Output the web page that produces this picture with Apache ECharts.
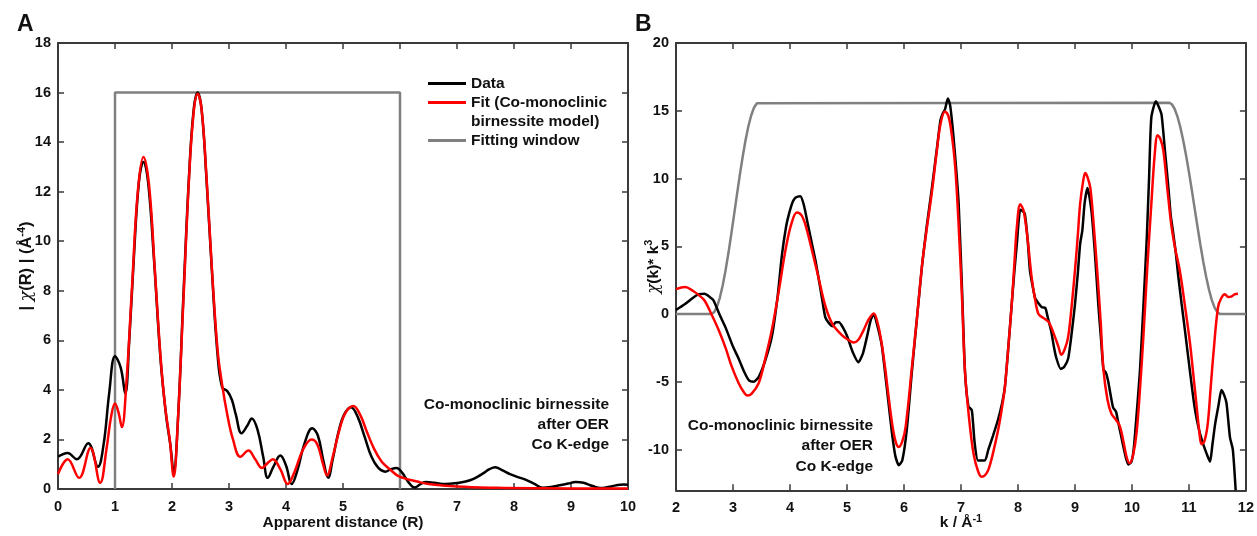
<!DOCTYPE html>
<html>
<head>
<meta charset="utf-8">
<script src="https://cdn.jsdelivr.net/npm/echarts@6/dist/echarts.min.js"></script>
<style>
  html, body { margin: 0; padding: 0; background: #fff; }
  #chart { width: 1257px; height: 536px; }
</style>
</head>
<body>
<div id="chart"></div>
<script>
// ---- Panel A: |chi(R)| versus apparent distance R ----
const dataR = [
  [0, 1.3], [0.17, 1.45], [0.33, 1.2], [0.53, 1.85], [0.7, 0.9], [0.8, 1.8], [0.9, 3.9],
  [1.0, 5.36], [1.1, 4.9], [1.18, 3.85], [1.25, 6.0], [1.33, 9.3], [1.42, 12.4], [1.5, 13.2],
  [1.58, 12.4], [1.68, 9.4], [1.8, 5.2], [1.9, 2.9], [1.97, 1.8], [2.03, 0.7], [2.1, 2.6],
  [2.2, 7.8], [2.3, 12.7], [2.38, 15.3], [2.45, 16.0], [2.52, 15.3], [2.6, 12.7], [2.7, 8.8],
  [2.8, 5.4], [2.88, 4.1], [2.97, 3.95], [3.05, 3.6], [3.12, 3.0], [3.22, 2.25], [3.32, 2.55],
  [3.4, 2.85], [3.5, 2.4], [3.6, 1.3], [3.68, 0.45], [3.78, 0.9], [3.9, 1.35], [4.0, 0.95],
  [4.1, 0.2], [4.2, 0.75], [4.32, 1.8], [4.46, 2.45], [4.56, 2.15], [4.66, 1.1], [4.74, 0.45],
  [4.82, 1.2], [4.92, 2.3], [5.02, 3.0], [5.14, 3.3], [5.26, 2.9], [5.38, 2.1], [5.5, 1.3],
  [5.62, 0.85], [5.74, 0.7], [5.84, 0.8], [5.94, 0.85], [6.04, 0.65], [6.14, 0.3], [6.26, 0.06],
  [6.36, 0.2], [6.46, 0.28], [6.6, 0.25], [6.8, 0.2], [7.0, 0.24], [7.15, 0.3], [7.3, 0.42],
  [7.45, 0.62], [7.57, 0.8], [7.67, 0.88], [7.8, 0.75], [7.93, 0.6], [8.07, 0.48], [8.2, 0.38],
  [8.35, 0.22], [8.5, 0.05], [8.65, 0.08], [8.8, 0.15], [8.95, 0.22], [9.08, 0.28], [9.22, 0.25],
  [9.38, 0.12], [9.52, 0.04], [9.65, 0.08], [9.8, 0.15], [9.92, 0.18], [10.0, 0.17]
];
const fitR = [
  [0, 0.6], [0.17, 1.2], [0.37, 0.45], [0.57, 1.65], [0.74, 0.25], [0.85, 1.6], [0.93, 2.9],
  [1.0, 3.45], [1.06, 3.1], [1.12, 2.5], [1.2, 4.3], [1.3, 8.2], [1.4, 12.0], [1.5, 13.4],
  [1.6, 12.2], [1.7, 8.8], [1.8, 5.3], [1.88, 3.3], [1.96, 2.0], [2.03, 0.5], [2.1, 2.6],
  [2.2, 7.6], [2.3, 12.6], [2.38, 15.2], [2.45, 15.95], [2.52, 15.3], [2.6, 12.8], [2.7, 8.9],
  [2.8, 5.6], [2.88, 4.2], [2.97, 3.0], [3.07, 2.0], [3.2, 1.3], [3.34, 1.55], [3.46, 1.2],
  [3.58, 0.85], [3.68, 1.05], [3.77, 1.2], [3.9, 0.8], [4.03, 0.2], [4.15, 0.7], [4.3, 1.6],
  [4.45, 2.0], [4.55, 1.8], [4.65, 1.0], [4.72, 0.55], [4.82, 1.3], [4.95, 2.5], [5.05, 3.1],
  [5.18, 3.35], [5.3, 3.0], [5.42, 2.3], [5.55, 1.6], [5.68, 1.1], [5.82, 0.8], [5.95, 0.55],
  [6.05, 0.45], [6.3, 0.3], [6.5, 0.2], [7.0, 0.1], [7.7, 0.05], [8.5, 0.03], [9.5, 0.02], [10.0, 0.02]
];
const windowR = [[1, 0], [1, 16], [6, 16], [6, 0]];

// ---- Panel B: k^3-weighted chi(k) ----
const dataK = [
  [2.0, 0.3], [2.16, 0.74], [2.3, 1.2], [2.4, 1.47], [2.5, 1.5], [2.58, 1.3], [2.66, 1.0],
  [2.76, 0.0], [2.87, -1.0], [3.0, -2.4], [3.1, -3.3], [3.2, -4.3], [3.28, -4.9], [3.36, -5.0],
  [3.45, -4.65], [3.56, -3.5], [3.68, -1.7], [3.78, 1.2], [3.86, 4.4], [3.93, 6.4], [3.98, 7.35],
  [4.05, 8.3], [4.1, 8.6], [4.18, 8.7], [4.24, 8.1], [4.32, 6.5], [4.39, 5.1], [4.45, 3.9],
  [4.5, 2.7], [4.56, 1.2], [4.62, -0.25], [4.68, -0.65], [4.75, -0.9], [4.8, -0.6], [4.86, -0.6],
  [4.93, -1.0], [5.0, -1.6], [5.1, -2.8], [5.2, -3.55], [5.28, -2.9], [5.36, -1.5], [5.42, -0.4],
  [5.47, 0.0], [5.53, -0.8], [5.61, -2.3], [5.67, -4.4], [5.73, -6.6], [5.79, -8.8], [5.85, -10.5],
  [5.91, -11.15], [5.97, -10.8], [6.05, -8.5], [6.14, -4.2], [6.23, -0.2], [6.32, 3.7], [6.4, 6.5],
  [6.49, 9.3], [6.58, 12.3], [6.64, 14.3], [6.68, 14.8], [6.72, 15.1], [6.77, 15.9], [6.81, 15.4],
  [6.86, 13.5], [6.92, 10.5], [6.96, 8.1], [7.02, 1.7], [7.07, -4.2], [7.13, -6.8], [7.19, -7.1],
  [7.24, -9.5], [7.3, -10.8], [7.42, -10.8], [7.48, -10.0], [7.56, -9.0], [7.65, -7.8], [7.72, -6.6],
  [7.77, -5.4], [7.83, -2.5], [7.89, 0.7], [7.94, 3.3], [7.98, 5.15], [8.04, 7.7], [8.08, 7.6],
  [8.12, 7.4], [8.17, 5.5], [8.21, 3.2], [8.26, 2.0], [8.3, 1.2], [8.36, 0.8], [8.42, 0.5],
  [8.48, 0.45], [8.52, -0.2], [8.58, -1.2], [8.63, -2.4], [8.67, -3.2], [8.75, -4.05], [8.81, -3.9],
  [8.88, -3.3], [8.94, -1.5], [9.0, 0.7], [9.05, 3.0], [9.09, 5.15], [9.13, 6.2], [9.17, 8.2],
  [9.22, 9.3], [9.29, 7.6], [9.35, 4.5], [9.41, 0.7], [9.46, -2.0], [9.5, -4.1], [9.54, -4.3],
  [9.58, -4.9], [9.64, -6.3], [9.67, -6.9], [9.72, -7.2], [9.76, -8.0], [9.8, -8.8], [9.85, -9.8],
  [9.9, -10.7], [9.94, -11.1], [9.99, -10.9], [10.03, -10.0], [10.08, -7.5], [10.14, -4.2],
  [10.2, 0.5], [10.26, 5.6], [10.3, 10.0], [10.34, 14.5], [10.42, 15.7], [10.47, 15.3],
  [10.52, 14.7], [10.58, 12.0], [10.64, 9.3], [10.68, 7.3], [10.72, 6.1], [10.77, 4.5],
  [10.81, 2.9], [10.87, 0.8], [10.93, -1.2], [11.02, -4.3], [11.1, -6.9], [11.18, -8.6],
  [11.25, -9.6], [11.31, -10.3], [11.37, -10.9], [11.41, -9.7], [11.46, -8.1], [11.52, -6.7],
  [11.57, -5.6], [11.62, -6.0], [11.66, -6.6], [11.72, -9.1], [11.77, -10.0], [11.82, -13.0]
];
const fitK = [
  [2.0, 1.84], [2.16, 2.0], [2.3, 1.7], [2.4, 1.4], [2.5, 1.0], [2.62, 0.0], [2.75, -1.2],
  [2.87, -2.5], [2.98, -3.9], [3.1, -5.1], [3.18, -5.7], [3.25, -6.0], [3.32, -5.9], [3.45, -5.1],
  [3.56, -3.4], [3.68, -1.2], [3.8, 1.6], [3.92, 4.7], [4.02, 6.6], [4.12, 7.5], [4.2, 7.3],
  [4.27, 6.6], [4.38, 4.8], [4.5, 2.7], [4.62, 0.6], [4.74, -0.7], [4.91, -1.55], [5.02, -1.9],
  [5.12, -2.1], [5.2, -1.9], [5.29, -1.2], [5.38, -0.4], [5.47, 0.05], [5.54, -0.7], [5.61, -2.2],
  [5.67, -4.0], [5.73, -6.1], [5.8, -8.3], [5.86, -9.5], [5.91, -9.8], [5.97, -9.4], [6.03, -8.3],
  [6.14, -3.9], [6.23, -0.2], [6.32, 3.7], [6.4, 6.3], [6.49, 9.0], [6.57, 11.8], [6.64, 14.0],
  [6.72, 14.95], [6.78, 14.6], [6.84, 13.2], [6.9, 10.8], [6.96, 6.5], [7.02, 1.0], [7.07, -4.2],
  [7.14, -7.6], [7.22, -10.3], [7.3, -11.6], [7.36, -12.0], [7.42, -11.9], [7.48, -11.5],
  [7.56, -10.3], [7.65, -8.6], [7.72, -6.9], [7.77, -5.4], [7.83, -2.5], [7.89, 0.7], [7.94, 3.9],
  [7.98, 6.4], [8.04, 8.1], [8.1, 7.6], [8.17, 5.5], [8.24, 2.7], [8.3, 1.1], [8.36, 0.0],
  [8.45, -0.3], [8.54, -0.6], [8.65, -1.7], [8.71, -2.4], [8.76, -3.0], [8.82, -2.6], [8.88, -1.7],
  [8.94, 0.5], [9.0, 3.2], [9.05, 5.8], [9.09, 8.1], [9.14, 9.7], [9.18, 10.4], [9.22, 10.1],
  [9.27, 9.3], [9.33, 6.5], [9.39, 3.2], [9.45, -0.5], [9.5, -4.1], [9.57, -6.3], [9.64, -7.35],
  [9.72, -7.8], [9.79, -8.3], [9.85, -9.4], [9.91, -10.6], [9.96, -11.0], [10.02, -10.4],
  [10.08, -8.8], [10.14, -5.6], [10.2, -1.7], [10.27, 3.5], [10.34, 8.1], [10.4, 11.8],
  [10.45, 13.2], [10.5, 12.9], [10.55, 12.1], [10.62, 9.3], [10.69, 6.6], [10.76, 4.8],
  [10.84, 3.2], [10.93, 0.6], [11.02, -2.2], [11.08, -4.6], [11.13, -6.6], [11.18, -8.6],
  [11.22, -9.6], [11.27, -9.4], [11.33, -8.1], [11.38, -5.5], [11.43, -2.9], [11.51, 0.5],
  [11.57, 1.2], [11.63, 1.47], [11.69, 1.25], [11.75, 1.3], [11.8, 1.45], [11.86, 1.5]
];
const windowK = [
  [2.0, 0], [2.62, 0], [2.67, 0.14], [2.72, 0.55], [2.77, 1.22], [2.82, 2.13], [2.87, 3.24],
  [2.92, 4.5], [2.97, 5.9], [3.02, 7.36], [3.07, 8.83], [3.12, 10.27], [3.17, 11.61], [3.22, 12.83],
  [3.27, 13.86], [3.32, 14.67], [3.37, 15.24], [3.42, 15.55], [3.45, 15.6],
  [10.65, 15.6], [10.7, 15.48], [10.75, 15.13], [10.8, 14.55], [10.85, 13.77], [10.9, 12.81],
  [10.95, 11.7], [11.0, 10.47], [11.05, 9.16], [11.1, 7.8], [11.15, 6.44], [11.2, 5.13],
  [11.25, 3.9], [11.3, 2.79], [11.35, 1.83], [11.4, 1.05], [11.45, 0.47], [11.5, 0.12],
  [11.55, 0], [12.0, 0]
];
const kYTicks = [-10, -5, 0, 5, 10, 15, 20];

const seriesNames = ['Data', 'Fit (Co-monoclinic birnessite model)', 'Fitting window'];
const colors = { data: '#000000', fit: '#ff0000', window: '#808080' };

const FONT = '"Liberation Sans", Arial, sans-serif';
const frameColor = '#3a3a3a';
const textCommon = { fontFamily: FONT, fontWeight: 'bold', color: '#111' };

function axisBase(extra, labelMargin) {
  return Object.assign({
    type: 'value',
    nameMoveOverlap: false,
    axisLine: { show: true, onZero: false, lineStyle: { color: frameColor, width: 2 } },
    axisTick: { show: true, inside: true, length: 6, lineStyle: { color: frameColor, width: 1.5 } },
    axisLabel: Object.assign({ fontSize: 14.5, margin: labelMargin || 7 }, textCommon),
    splitLine: { show: false }
  }, extra);
}
function mirror(axis) {
  axis.axisLabel = { show: false };
  axis.name = '';
  return axis;
}
function richSet(size) {
  return {
    t: Object.assign({ fontSize: size, lineHeight: size + 4 }, textCommon),
    s: Object.assign({ fontSize: Math.round(size * 0.68), verticalAlign: 'top', lineHeight: size + 4 }, textCommon),
    g: { fontSize: size + 1, lineHeight: size + 4, fontFamily: '"DejaVu Serif", serif', fontStyle: 'italic', color: '#111' }
  };
}

const chart = echarts.init(document.getElementById('chart'), null, { renderer: 'canvas' });

chart.setOption({
  animation: false,
  backgroundColor: '#ffffff',
  grid: [
    { left: 58, top: 43, width: 570, height: 450 },
    { left: 676, top: 43, width: 570, height: 450 }
  ],
  legend: {
    orient: 'vertical',
    left: 428,
    top: 74,
    padding: 0,
    icon: 'rect',
    itemWidth: 38,
    itemHeight: 3,
    itemGap: -19,
    selectedMode: false,
    textStyle: Object.assign({ fontSize: 15.5, lineHeight: 19 }, textCommon),
    data: seriesNames,
    formatter: function (name) {
      if (name === seriesNames[1]) return '\nFit (Co-monoclinic\nbirnessite model)';
      if (name === seriesNames[2]) return '\nFitting window\n ';
      return name;
    }
  },
  xAxis: [
    axisBase({
      gridIndex: 0, position: 'bottom', min: 0, max: 10, interval: 1,
      name: 'Apparent distance (R)', nameLocation: 'middle', nameGap: 26,
      nameTextStyle: Object.assign({ fontSize: 15.5 }, textCommon)
    }, 10),
    mirror(axisBase({ gridIndex: 0, position: 'top', min: 0, max: 10, interval: 1 })),
    axisBase({
      gridIndex: 1, position: 'bottom', min: 2, max: 12, interval: 1,
      name: '{t|k / Å}{s|-1}', nameLocation: 'middle', nameGap: 23,
      nameTextStyle: { rich: richSet(15.5) }
    }, 10),
    mirror(axisBase({ gridIndex: 1, position: 'top', min: 2, max: 12, interval: 1 }))
  ],
  yAxis: [
    axisBase({
      gridIndex: 0, position: 'left', min: 0, max: 18, interval: 2,
      name: '{t|| }{g|χ}{t|(R) | (Å}{s|-4}{t|)}', nameLocation: 'middle', nameGap: 21,
      nameTextStyle: { rich: richSet(16.5) }
    }),
    mirror(axisBase({ gridIndex: 0, position: 'right', min: 0, max: 18, interval: 2 })),
    (function () {
      const ax = axisBase({
        gridIndex: 1, position: 'left', min: -13, max: 20,
        name: '{g|χ}{t|(k)* k}{s|3}', nameLocation: 'middle', nameGap: 13,
        nameTextStyle: { rich: richSet(15.5) }
      });
      ax.axisTick.customValues = kYTicks;
      ax.axisLabel.customValues = kYTicks;
      return ax;
    })(),
    (function () {
      const ax = mirror(axisBase({ gridIndex: 1, position: 'right', min: -13, max: 20 }));
      ax.axisTick.customValues = kYTicks;
      return ax;
    })()
  ],
  series: [
    { name: seriesNames[2], type: 'line', xAxisIndex: 0, yAxisIndex: 0, data: windowR,
      symbol: 'none', lineStyle: { color: colors.window, width: 2.5 }, itemStyle: { color: colors.window } },
    { name: seriesNames[0], type: 'line', xAxisIndex: 0, yAxisIndex: 0, data: dataR, smooth: 0.4,
      symbol: 'none', lineStyle: { color: colors.data, width: 2.5 }, itemStyle: { color: colors.data } },
    { name: seriesNames[1], type: 'line', xAxisIndex: 0, yAxisIndex: 0, data: fitR, smooth: 0.4,
      symbol: 'none', lineStyle: { color: colors.fit, width: 2.5 }, itemStyle: { color: colors.fit } },

    { name: seriesNames[2], type: 'line', xAxisIndex: 2, yAxisIndex: 2, data: windowK,
      symbol: 'none', lineStyle: { color: colors.window, width: 2.5 }, itemStyle: { color: colors.window } },
    { name: seriesNames[0], type: 'line', xAxisIndex: 2, yAxisIndex: 2, data: dataK, smooth: 0.2,
      symbol: 'none', lineStyle: { color: colors.data, width: 2.5 }, itemStyle: { color: colors.data } },
    { name: seriesNames[1], type: 'line', xAxisIndex: 2, yAxisIndex: 2, data: fitK, smooth: 0.35,
      symbol: 'none', lineStyle: { color: colors.fit, width: 2.5 }, itemStyle: { color: colors.fit } }
  ],
  graphic: [
    { type: 'text', left: 17, top: 13, style: Object.assign({ text: 'A', fontSize: 23 }, textCommon, { fill: '#111' }) },
    { type: 'text', left: 635, top: 13, style: Object.assign({ text: 'B', fontSize: 23 }, textCommon, { fill: '#111' }) },
    { type: 'text', x: 609, y: 425,
      style: { text: 'Co-monoclinic birnessite\nafter OER\nCo K-edge', align: 'right', verticalAlign: 'middle',
        lineHeight: 20, fontSize: 15.5, fontFamily: FONT, fontWeight: 'bold', fill: '#111' } },
    { type: 'text', x: 873, y: 446,
      style: { text: 'Co-monoclinic birnessite\nafter OER\nCo K-edge', align: 'right', verticalAlign: 'middle',
        lineHeight: 20.5, fontSize: 15.5, fontFamily: FONT, fontWeight: 'bold', fill: '#111' } }
  ]
});
</script>
</body>
</html>
